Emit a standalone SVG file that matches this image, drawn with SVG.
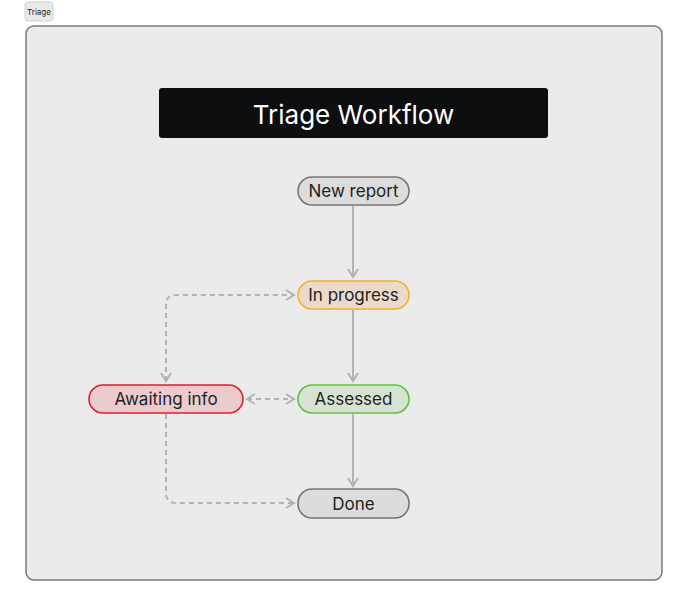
<svg xmlns="http://www.w3.org/2000/svg" width="688" height="607" viewBox="0 0 688 607">
<style>
text{font-family:Inter,"Liberation Sans",sans-serif;fill:#1e1e1e;text-anchor:middle;dominant-baseline:central}
.n{stroke-width:1.6}
.e{fill:none;stroke:#b3b3b3;stroke-width:2}
.d{stroke-dasharray:5 4}
</style>
<defs>
<marker id="a" viewBox="0 0 12 12" refX="10" refY="6" markerWidth="12" markerHeight="12" markerUnits="userSpaceOnUse" orient="auto-start-reverse">
<path d="M2,1 L10,6 L2,11" fill="none" stroke="#b3b3b3" stroke-width="2"/>
</marker>
</defs>
<rect width="688" height="607" fill="#fff"/>
<g id="frame-label"><rect x="25" y="2" width="28" height="19" rx="3" fill="#e9e9e9" stroke="#d0d0d0"/><text x="39" y="11.5" font-size="8">Triage</text></g>
<g id="frame"><rect x="26" y="26" width="636" height="554" rx="8" fill="#ebebeb" stroke="#7a7a7a" stroke-width="1.5"/></g>
<g id="title"><rect x="159" y="88" width="389" height="50" rx="3" fill="#0d0e10"/><text x="353.5" y="114" font-size="26" style="fill:#fff">Triage Workflow</text></g>
<g id="connectors">
<path class="e" d="M353,206 V277" marker-end="url(#a)"/>
<path class="e" d="M353,310 V381" marker-end="url(#a)"/>
<path class="e" d="M353,414 V486" marker-end="url(#a)"/>
<path class="e d" d="M166,381 V305 Q166,295 176,295 H294" marker-start="url(#a)" marker-end="url(#a)"/>
<path class="e d" d="M247,399 H294" marker-start="url(#a)" marker-end="url(#a)"/>
<path class="e d" d="M166,414 V493 Q166,503 176,503 H294" marker-end="url(#a)"/>
</g>
<g id="new-report"><rect class="n" x="298" y="177" width="111" height="28" rx="14" fill="#dcdcdc" stroke="#777"/><text x="353.5" y="191" font-size="17">New report</text></g>
<g id="in-progress"><rect class="n" x="298" y="281" width="111" height="28" rx="14" fill="#ebdaca" stroke="#f5b02e"/><text x="353.5" y="295" font-size="17">In progress</text></g>
<g id="assessed"><rect class="n" x="298" y="385" width="111" height="28" rx="14" fill="#d6e3d3" stroke="#5ec23a"/><text x="353.5" y="399" font-size="17">Assessed</text></g>
<g id="done"><rect class="n" x="298" y="489" width="111" height="29" rx="14" fill="#dcdcdc" stroke="#777"/><text x="353.5" y="503.5" font-size="17">Done</text></g>
<g id="awaiting-info"><rect class="n" x="89" y="385" width="154" height="28" rx="14" fill="#ebcbcd" stroke="#e0202c"/><text x="166" y="399" font-size="17">Awaiting info</text></g>
</svg>
